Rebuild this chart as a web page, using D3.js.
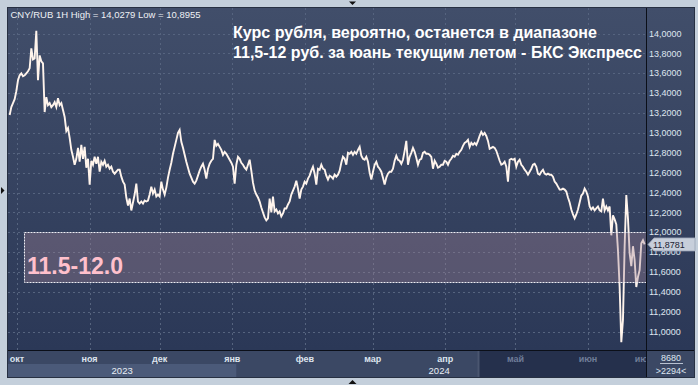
<!DOCTYPE html>
<html>
<head>
<meta charset="utf-8">
<script src="https://cdn.jsdelivr.net/npm/d3@7"></script>
<style>
  html, body { margin: 0; padding: 0; background: #c4cfdb; }
  svg { display: block; }
</style>
</head>
<body>
<div id="chart"></div>
<script>
// CNY/RUB, 1H chart (evenly spaced samples)
const rubSeries = [
  13.18,13.26,13.30,13.34,13.42,13.53,13.58,13.60,13.57,13.58,
  13.60,13.62,13.65,13.85,13.74,13.75,14.0279,13.53,13.78,13.72,
  13.70,13.21,13.36,13.28,13.30,13.26,13.28,13.31,13.26,13.35,
  13.28,13.30,13.23,13.16,13.02,13.05,12.95,12.83,12.76,12.68,
  12.74,12.85,12.71,12.88,12.74,12.86,12.65,12.74,12.48,12.72,
  12.68,12.76,12.69,12.76,12.61,12.71,12.68,12.72,12.66,12.68,
  12.64,12.66,12.61,12.59,12.61,12.63,12.63,12.56,12.51,12.48,
  12.35,12.27,12.34,12.22,12.30,12.38,12.49,12.31,12.29,12.31,
  12.29,12.32,12.31,12.32,12.38,12.46,12.39,12.43,12.36,12.38,
  12.36,12.51,12.43,12.38,
  12.45,12.55,12.63,12.70,12.79,12.86,12.93,13.00,13.03,12.91,
  12.85,12.78,12.71,12.65,12.59,12.55,12.51,12.49,12.52,12.57,
  12.62,12.66,12.69,12.63,12.54,12.64,12.69,12.72,12.74,12.93,
  12.87,12.89,12.86,12.83,12.78,12.81,12.79,12.76,12.73,12.70,
  12.66,12.49,12.68,12.76,12.74,12.70,12.68,12.65,12.63,12.68,
  12.73,12.62,12.50,12.42,12.38,12.35,12.31,12.25,12.20,12.15,
  12.12,12.14,12.34,12.20,12.36,12.21,12.23,12.19,12.21,12.16,
  12.19,12.24,12.24,12.28,12.31,12.38,12.42,12.46,12.52,12.44,
  12.34,12.43,12.46,12.51,12.49,12.54,12.57,12.62,12.66,12.59,
  12.48,12.64,12.63,12.68,12.64,12.63,
  12.57,12.53,12.57,12.56,12.54,12.58,12.56,12.58,12.62,12.70,
  12.76,12.74,12.68,12.80,12.79,12.81,12.78,12.81,12.79,12.83,
  12.86,12.77,12.74,12.73,12.76,12.71,12.60,12.53,12.61,12.68,
  12.71,12.66,12.64,12.61,12.55,12.48,12.55,12.59,12.61,12.61,
  12.64,12.72,12.77,12.73,12.72,12.69,12.73,12.82,12.92,12.68,
  12.76,12.80,12.85,12.81,12.75,12.68,12.73,12.74,12.80,12.81,
  12.79,12.79,12.78,12.76,12.64,12.72,12.69,12.65,12.66,12.68,
  12.68,12.72,12.71,12.68,12.72,12.74,12.77,12.76,12.79,12.78,
  12.81,12.83,12.87,12.90,12.91,12.93,12.86,12.90,12.88,12.90,
  12.88,12.92,12.97,13.01,12.98,13.00,
  12.97,12.92,12.84,12.85,12.86,12.85,12.82,12.77,12.72,12.68,
  12.69,12.71,12.66,12.51,12.73,12.74,12.73,12.74,12.66,12.71,
  12.73,12.68,12.66,12.63,12.61,12.58,12.61,12.64,12.68,12.69,
  12.66,12.59,12.58,12.61,12.63,12.59,12.58,12.59,12.58,12.58,
  12.56,12.51,12.49,12.46,12.43,12.43,12.44,12.43,12.41,12.35,
  12.30,12.23,12.18,12.14,12.18,12.23,12.30,12.37,12.39,12.44,
  12.41,12.36,12.26,12.23,12.25,12.22,12.24,12.26,12.22,12.21,
  12.34,12.22,12.26,12.22,12.26,11.97,12.17,12.13,12.08,11.82,
  11.45,10.8955,11.12,11.86,12.375,12.14,11.79,11.66,11.86,11.72,
  11.45,11.55,11.62,11.89,11.92,11.8781
];
const seriesStart = new Date(Date.UTC(2023, 8, 27, 21));
const seriesEnd = new Date(Date.UTC(2024, 5, 25, 5));
const viewStart = new Date(Date.UTC(2023, 8, 27, 4));
const viewEnd = new Date(Date.UTC(2024, 5, 25, 19));

const monthLabels = ['окт', 'ноя', 'дек', 'янв', 'фев', 'мар', 'апр', 'май', 'июн', 'июл'];
const yearLabels = ['2023', '2024'];
const yTickValues = [11.0, 11.2, 11.4, 11.6, 11.8, 12.0, 12.2, 12.4, 12.6, 12.8, 13.0, 13.2, 13.4, 13.6, 13.8, 14.0];
const targetRange = [11.5, 12.0];
const targetStart = new Date(Date.UTC(2023, 9, 4));
const rangeLabel = '11.5-12.0';
const lastPrice = 11.8781;
const seriesHigh = 14.0279, seriesLow = 10.8955;
const volumeLabels = ['8680', '>2294<'];
const shadedFrom = new Date(Date.UTC(2024, 3, 15));
const titleLines = [
  'Курс рубля, вероятно, останется в диапазоне',
  '11,5-12 руб. за юань текущим летом - БКС Экспресс'
];

const W = 698, H = 385;
const plot = { left: 8, right: 646, top: 8, bottom: 350 };
const axisRight = 694, stripBottom = 377;
const FONT = '"Liberation Sans", Arial, sans-serif';
const fmt4 = v => d3.format('.4f')(v).replace('.', ',');

const svg = d3.select('#chart').append('svg').attr('width', W).attr('height', H);

const defs = svg.append('defs');
const grad = defs.append('linearGradient').attr('id', 'bg').attr('x1', 0).attr('y1', 0).attr('x2', 0).attr('y2', 1);
grad.append('stop').attr('offset', '0%').attr('stop-color', '#414e6a');
grad.append('stop').attr('offset', '100%').attr('stop-color', '#2b3857');
defs.append('clipPath').attr('id', 'plotClip').append('rect')
  .attr('x', plot.left).attr('y', plot.top)
  .attr('width', plot.right - plot.left).attr('height', plot.bottom - plot.top);

// outer frame
svg.append('rect').attr('width', W).attr('height', H).attr('fill', '#c4cfdb');
svg.append('rect').attr('x', plot.left).attr('y', plot.top)
  .attr('width', axisRight - plot.left).attr('height', plot.bottom - plot.top)
  .attr('fill', 'url(#bg)');

const x = d3.scaleUtc().domain([viewStart, viewEnd]).range([plot.left, plot.right]);
const y = d3.scaleLinear().domain([10.816, 14.257]).range([plot.bottom, plot.top]);

const points = rubSeries.map((v, i) => ({
  date: new Date(+seriesStart + i * (seriesEnd - seriesStart) / (rubSeries.length - 1)),
  value: v
}));
const months = d3.utcMonths(d3.utcMonth.ceil(viewStart), d3.utcMonth.offset(viewEnd, 10)).slice(0, monthLabels.length);

// grid
const grid = svg.append('g').attr('clip-path', 'url(#plotClip)')
  .attr('stroke', '#56647f').attr('stroke-width', 1).attr('stroke-dasharray', '2,3');
grid.selectAll('.hg').data(yTickValues).join('line')
  .attr('x1', plot.left).attr('x2', plot.right)
  .attr('y1', d => Math.round(y(d)) + 0.5).attr('y2', d => Math.round(y(d)) + 0.5);
grid.selectAll('.vg').data(months).join('line')
  .attr('x1', d => Math.round(x(d)) + 0.5).attr('x2', d => Math.round(x(d)) + 0.5)
  .attr('y1', plot.top).attr('y2', plot.bottom);

// price line
svg.append('path').datum(points)
  .attr('clip-path', 'url(#plotClip)')
  .attr('fill', 'none').attr('stroke', '#fff4ec').attr('stroke-width', 1.9)
  .attr('stroke-linejoin', 'miter')
  .attr('d', d3.line().x(d => x(d.date)).y(d => y(d.value)));

// target range box
svg.append('rect')
  .attr('x', Math.round(x(targetStart)) + 0.5).attr('y', Math.round(y(targetRange[1])) + 0.5)
  .attr('width', plot.right - Math.round(x(targetStart)))
  .attr('height', Math.round(y(targetRange[0])) - Math.round(y(targetRange[1])))
  .attr('fill', '#a08296').attr('fill-opacity', 0.36)
  .attr('stroke', '#eeeef4').attr('stroke-width', 1).attr('stroke-dasharray', '2,1');
svg.append('text')
  .attr('x', x(targetStart) + 3).attr('y', y(targetRange[0]) - 8)
  .attr('fill', '#ffc0cc').attr('font-family', FONT).attr('font-weight', 700)
  .attr('font-size', '24px').attr('textLength', 96).attr('lengthAdjust', 'spacingAndGlyphs')
  .text(rangeLabel);

// header label and title
svg.append('text').attr('x', 10.5).attr('y', 17.5)
  .attr('fill', '#eef0f4').attr('font-family', FONT).attr('font-size', '9.5px')
  .text(`CNY/RUB 1H High = ${fmt4(seriesHigh)} Low = ${fmt4(seriesLow)}`);
svg.selectAll('.title').data(titleLines).join('text')
  .attr('x', 233).attr('y', (d, i) => 37.5 + i * 20)
  .attr('fill', '#ffffff').attr('font-family', FONT).attr('font-weight', 700).attr('font-size', '15.6px')
  .attr('textLength', (d, i) => i === 0 ? 364 : 409).attr('lengthAdjust', 'spacingAndGlyphs')
  .text(d => d);

// right axis
svg.append('g').selectAll('text').data(yTickValues).join('text')
  .attr('x', 649).attr('y', d => y(d)).attr('dy', '0.35em')
  .attr('fill', '#dfe6f0').attr('font-family', FONT).attr('font-size', '9px')
  .text(d => fmt4(d));

// bottom strip
svg.append('rect').attr('x', plot.left).attr('y', plot.bottom)
  .attr('width', axisRight - plot.left).attr('height', stripBottom - plot.bottom).attr('fill', '#3b4864');
const yearStarts = [viewStart, d3.utcYear.ceil(viewStart)];
svg.append('rect').attr('x', plot.left).attr('y', 364)
  .attr('width', x(yearStarts[1]) + 4 - plot.left).attr('height', stripBottom - 364).attr('fill', '#4b5a79');
svg.append('rect').attr('x', x(shadedFrom)).attr('y', plot.bottom)
  .attr('width', plot.right - x(shadedFrom)).attr('height', stripBottom - plot.bottom).attr('fill', '#25304c');
svg.append('line').attr('x1', Math.round(x(shadedFrom)) + 0.5).attr('x2', Math.round(x(shadedFrom)) + 0.5)
  .attr('y1', plot.bottom + 1).attr('y2', stripBottom).attr('stroke', '#4a5670').attr('stroke-width', 2);

defs.append('clipPath').attr('id', 'stripClip').append('rect')
  .attr('x', plot.left).attr('y', plot.bottom).attr('width', plot.right - plot.left).attr('height', 30);
svg.append('g').attr('clip-path', 'url(#stripClip)')
  .selectAll('text').data(months).join('text')
  .attr('x', d => Math.min(x(d), plot.right - 2)).attr('y', 362).attr('text-anchor', 'middle')
  .attr('fill', d => d >= shadedFrom ? '#6f7d98' : '#dde4ee')
  .attr('font-family', FONT).attr('font-weight', 700).attr('font-size', '9px')
  .text((d, i) => monthLabels[i]);
svg.selectAll('.year').data(yearLabels).join('text')
  .attr('x', (d, i) => i === 0 ? (plot.left + x(yearStarts[1]) + 4) / 2 : (x(yearStarts[1]) + plot.right) / 2)
  .attr('y', 373.5).attr('text-anchor', 'middle')
  .attr('fill', '#e8eef5').attr('font-family', FONT).attr('font-size', '9.5px')
  .text(d => d);

// volume cell
svg.selectAll('.vol').data(volumeLabels).join('text')
  .attr('x', 671).attr('y', (d, i) => 361 + i * 12.5).attr('text-anchor', 'middle')
  .attr('fill', '#dfe6f0').attr('font-family', FONT).attr('font-size', '9px')
  .text(d => d);
svg.append('line').attr('x1', 660).attr('x2', 683).attr('y1', 363.5).attr('y2', 363.5)
  .attr('stroke', '#b8c2d2').attr('stroke-width', 1);

// separators and border
svg.append('line').attr('x1', plot.right + 0.5).attr('x2', plot.right + 0.5)
  .attr('y1', plot.top).attr('y2', stripBottom).attr('stroke', '#0b0f18').attr('stroke-width', 1);
svg.append('line').attr('x1', plot.left).attr('x2', axisRight)
  .attr('y1', plot.bottom + 0.5).attr('y2', plot.bottom + 0.5).attr('stroke', '#0b0f18').attr('stroke-width', 1);
svg.append('rect').attr('x', plot.left - 0.5).attr('y', plot.top - 0.5)
  .attr('width', axisRight - plot.left + 1).attr('height', stripBottom - plot.top + 1)
  .attr('fill', 'none').attr('stroke', '#273042').attr('stroke-width', 1);

// last price marker (sits over the 11,8000 tick label, as in the source)
const yc = y(lastPrice);
svg.append('path')
  .attr('d', `M648,${yc} L654,${yc - 6.5} L695,${yc - 6.5} L695,${yc + 6.5} L654,${yc + 6.5} Z`)
  .attr('fill', '#c7cfdb').attr('stroke', '#9aa5b6').attr('stroke-width', 0.8);
svg.append('text').attr('x', 653).attr('y', yc).attr('dy', '0.35em')
  .attr('fill', '#1b2232').attr('font-family', FONT).attr('font-size', '9px')
  .text(fmt4(lastPrice));

// scroll arrows on the frame
svg.append('path').attr('d', 'M349,1.5 L356,1.5 L352.5,5 Z').attr('fill', '#111');
svg.append('path').attr('d', 'M348.5,384 L356.5,384 L352.5,380 Z').attr('fill', '#111');
svg.append('path').attr('d', 'M1,187 L1,194 L4.5,190.5 Z').attr('fill', '#111');
</script>
</body>
</html>
